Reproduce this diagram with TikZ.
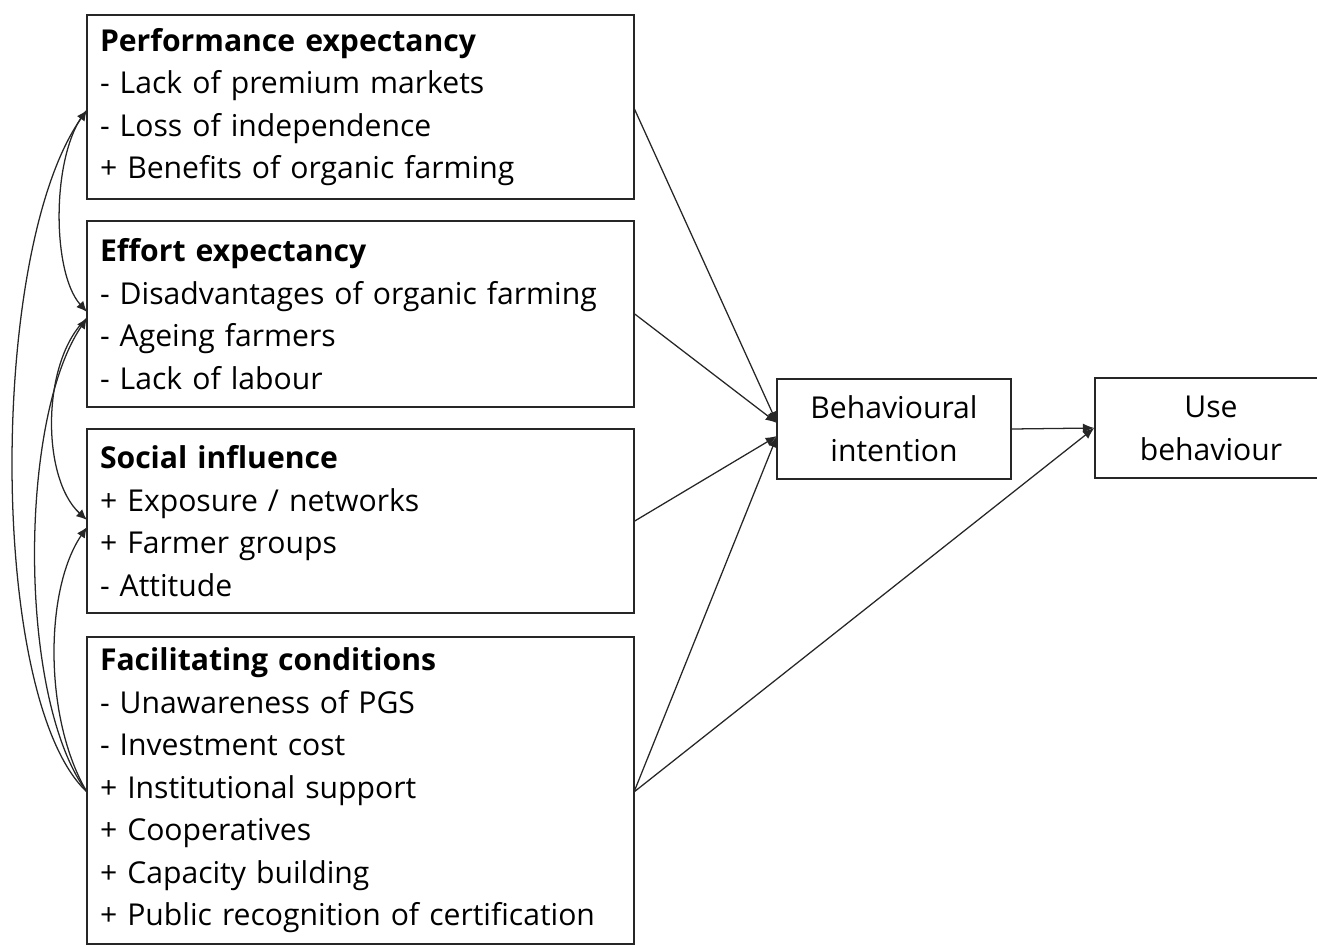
\documentclass[tikz,border=0pt]{standalone}
\usepackage{fontspec}
\setmainfont{Open Sans}
\usetikzlibrary{arrows.meta,calc}
\begin{document}
\begin{tikzpicture}[x=0.75pt,y=-0.75pt,
  box/.style={draw=black!85,line width=1.1pt,rectangle,inner xsep=9.75pt,inner ysep=0pt,
    align=left,text width=390.75pt,minimum height=#1,font=\fontsize{22.6}{31.9}\selectfont},
  cbox/.style={draw=black!85,line width=1.1pt,rectangle,inner sep=0pt,align=center,
    minimum width=#1,minimum height=75pt,font=\fontsize{22.6}{32.2}\selectfont},
  conn/.style={line width=0.95pt,draw=black!85,-{Latex[length=8.5pt,width=7pt]}},
  curv/.style={line width=0.95pt,draw=black!85,-{Latex[length=8pt,width=7pt]}}]
\useasboundingbox (0,0) rectangle (1317,946);
\node[box=138pt] (pe) at (360.5,107) {\textbf{Performance expectancy}\\- Lack of premium markets\\- Loss of independence\\+ Benefits of organic farming};
\node[box=139.5pt] (ee) at (360.5,314) {\textbf{Effort expectancy}\\- Disadvantages of organic farming\\- Ageing farmers\\- Lack of labour};
\node[box=138pt] (si) at (360.5,521) {\textbf{Social influence}\\+ Exposure / networks\\+ Farmer groups\\- Attitude};
\node[box=230.25pt] (fc) at (360.5,790.5) {\textbf{Facilitating conditions}\\- Unawareness of PGS\\- Investment cost\\+ Institutional support\\+ Cooperatives\\+ Capacity building\\+ Public recognition of certification};
\node[cbox=175.5pt] (bi) at (894,429) {Behavioural\\intention};
\node[cbox=174pt] (ub) at (1211,428) {Use\\behaviour};
% coordinates
\coordinate (bi1) at (777,423);
\coordinate (bi2) at (777,436);
\coordinate (fcR) at (634,792);
\coordinate (peR) at (634,108);
\coordinate (fcL) at (87,792);
\coordinate (peL) at (87,110);
\coordinate (eeA) at (87,312);
\coordinate (eeB) at (87,318);
\coordinate (siA) at (87,520);
\coordinate (siB) at (87,527);
% straight connectors
\draw[conn] (peR) -- (bi1);
\draw[conn] (ee.east) -- (bi1);
\draw[conn] (si.east) -- (bi2);
\draw[conn] (fcR) -- (bi2);
\draw[conn] (bi.east) -- (ub.west);
\draw[conn] (fcR) -- (ub.west);
% curved connectors
\draw[curv] (peL) .. controls (51,150) and (51,272) .. (eeA);
\draw[curv] (eeB) .. controls (41,360) and (41,478) .. (siA);
\draw[curv] (fcL) .. controls (-12,700) and (-12,250) .. (peL);
\draw[curv] (fcL) .. controls (18,700) and (18,420) .. (eeB);
\draw[curv] (fcL) .. controls (44,720) and (44,590) .. (siB);
\end{tikzpicture}
\end{document}
